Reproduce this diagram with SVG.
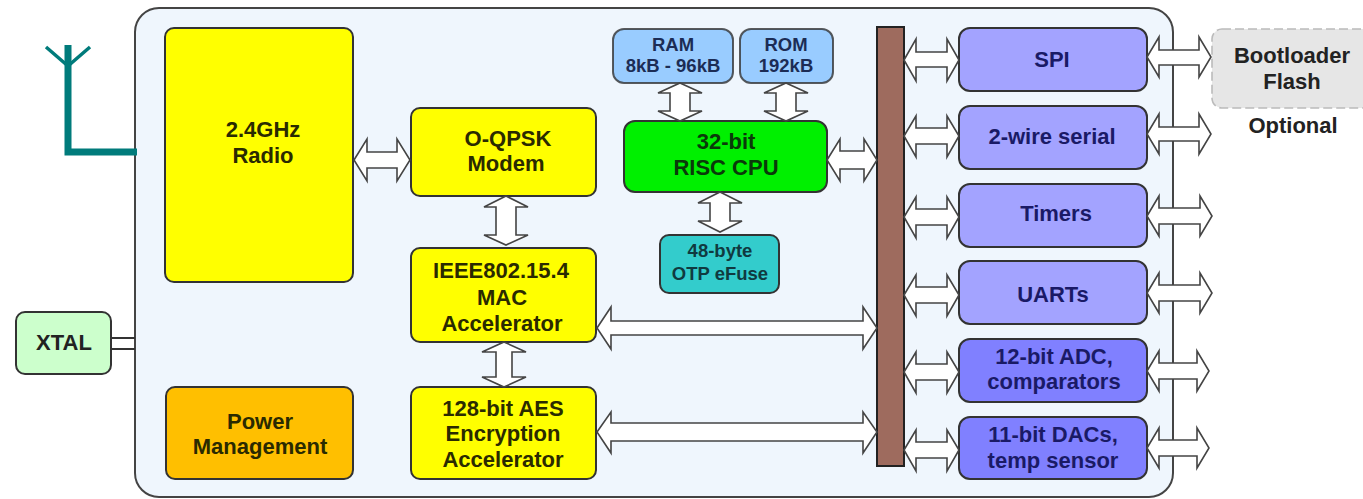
<svg xmlns="http://www.w3.org/2000/svg" width="1363" height="499" viewBox="0 0 1363 499">
<style>
text{font-family:"Liberation Sans",Arial,sans-serif;font-weight:bold;font-size:22px;text-anchor:middle;fill:#222}
.s text{font-size:18.5px}
.n{stroke:#333;stroke-width:2}
.y{fill:#ffff00}.p{fill:#a3a3ff}.d{fill:#8080ff}.b{fill:#99ccff}
.pt text{fill:#1a1a66}.yt text{fill:#2a2a00}
.a{fill:#fff;stroke:#444;stroke-width:1.6;stroke-linejoin:miter}
.ant{fill:none;stroke:#007b7b;stroke-linecap:butt}
</style>
<rect width="1363" height="499" fill="#fff"/>
<g id="chip"><rect x="135" y="8" width="1038" height="489" rx="24" fill="#eff6fd" stroke="#444" stroke-width="2"/></g>
<g id="antenna">
<path class="ant" stroke-width="7" d="M68 45V152H137"/>
<path class="ant" stroke-width="3.5" d="M46 47L68 66L90 47"/>
</g>
<g id="radio" class="yt"><rect class="n y" x="165" y="28" width="188" height="254" rx="9"/><text x="263" y="137">2.4GHz</text><text x="263" y="163">Radio</text></g>
<g id="modem" class="yt"><rect class="n y" x="411" y="108" width="185" height="88" rx="9"/><text x="508" y="146">O-QPSK</text><text x="506" y="171">Modem</text></g>
<g id="mac" class="yt"><rect class="n y" x="411" y="248" width="185" height="94" rx="9"/><text x="501" y="278">IEEE802.15.4</text><text x="502" y="305">MAC</text><text x="502" y="331">Accelerator</text></g>
<g id="aes" class="yt"><rect class="n y" x="411" y="387" width="185" height="92" rx="9"/><text x="503" y="416">128-bit AES</text><text x="503" y="441">Encryption</text><text x="503" y="467">Accelerator</text></g>
<g id="power" class="yt"><rect class="n" fill="#ffbf00" x="166" y="387" width="187" height="92" rx="9"/><text x="260" y="429">Power</text><text x="260" y="454">Management</text></g>
<g id="xtal"><rect class="n" fill="#ccffcc" x="16" y="312" width="95" height="62" rx="9"/><text x="64" y="350">XTAL</text></g>
<g id="ram" class="s"><rect class="n b" stroke-opacity=".8" x="613" y="29" width="120" height="54" rx="11"/><text x="673" y="51" style="fill:#1c2c55">RAM</text><text x="673" y="72" style="fill:#1c2c55">8kB - 96kB</text></g>
<g id="rom" class="s"><rect class="n b" stroke-opacity=".8" x="740" y="29" width="93" height="54" rx="11"/><text x="786" y="51" style="fill:#1c2c55">ROM</text><text x="786" y="72" style="fill:#1c2c55">192kB</text></g>
<g id="cpu"><rect class="n" fill="#00f000" x="624" y="121" width="203" height="71" rx="11"/><text x="726" y="149" style="fill:#0a3a0a">32-bit</text><text x="726" y="175" style="fill:#0a3a0a">RISC CPU</text></g>
<g id="otp" class="s"><rect class="n" fill="#33cccc" x="660" y="235" width="119" height="58" rx="9"/><text x="720" y="257" style="fill:#103a40">48-byte</text><text x="720" y="280" style="fill:#103a40">OTP eFuse</text></g>
<g id="bus"><rect x="877" y="27" width="27" height="439" fill="#9e6b5e" stroke="#222" stroke-width="2"/></g>
<g id="spi" class="pt"><rect class="n p" x="959" y="28" width="188" height="63" rx="11"/><text x="1052" y="67">SPI</text></g>
<g id="twowire" class="pt"><rect class="n p" x="959" y="106" width="188" height="63" rx="11"/><text x="1052" y="144">2-wire serial</text></g>
<g id="timers" class="pt"><rect class="n p" x="959" y="184" width="188" height="63" rx="11"/><text x="1056" y="221">Timers</text></g>
<g id="uarts" class="pt"><rect class="n p" x="959" y="261" width="188" height="63" rx="11"/><text x="1053" y="302">UARTs</text></g>
<g id="adc" class="pt"><rect class="n d" x="959" y="339" width="188" height="63" rx="11"/><text x="1054" y="364">12-bit ADC,</text><text x="1054" y="389">comparators</text></g>
<g id="dac" class="pt"><rect class="n d" x="959" y="417" width="188" height="62" rx="11"/><text x="1053" y="442">11-bit DACs,</text><text x="1053" y="468">temp sensor</text></g>
<g id="flash"><rect x="1212" y="29" width="160" height="79" rx="10" fill="#e6e6e6" stroke="#bbb" stroke-width="1.6" stroke-dasharray="9 4"/><text x="1292" y="63">Bootloader</text><text x="1292" y="89">Flash</text><text x="1293" y="133">Optional</text></g>
<g id="connectors">
<path d="M111 338H135M111 349H135" fill="none" stroke="#333" stroke-width="2"/>
<path class="a" d="M354 160L367 139V152H397V139L410 160L397 181V168H367V181Z"/>
<path class="a" d="M827 160L840 139V151H864V139L877 160L864 181V169H840V181Z"/>
<path class="a" d="M597 328L611 307V321H863V307L877 328L863 349V335H611V349Z"/>
<path class="a" d="M597 432L611 412V423H863V412L877 432L863 453V441H611V453Z"/>
<path class="a" d="M506 196L528 207H516V235H528L506 245L484 235H496V207H484Z"/>
<path class="a" d="M504 342L526 352H512V377H526L504 387L482 377H496V352H482Z"/>
<path class="a" d="M680 83L702 93H690V111H702L680 121L658 111H670V93H658Z"/>
<path class="a" d="M786 83L808 93H796V111H808L786 121L764 111H776V93H764Z"/>
<path class="a" d="M720 192L742 203H730V221H742L720 232L698 221H710V203H698Z"/>
<path class="a" d="M904 60L916 39V52H947V39L959 60L947 81V67H916V81Z"/>
<path class="a" d="M904 136L916 116V128H947V116L959 136L947 157V144H916V157Z"/>
<path class="a" d="M904 217L916 197V209H947V197L959 217L947 238V225H916V238Z"/>
<path class="a" d="M904 295L916 275V287H947V275L959 295L947 316V303H916V316Z"/>
<path class="a" d="M904 372L916 352V364H947V352L959 372L947 393V380H916V393Z"/>
<path class="a" d="M904 450L916 430V442H947V430L959 450L947 471V458H916V471Z"/>
<path class="a" d="M1147 57L1159 37V50H1199V37L1211 57L1199 77V65H1159V77Z"/>
<path class="a" d="M1147 134L1159 114V127H1199V114L1211 134L1199 154V141H1159V154Z"/>
<path class="a" d="M1147 216L1159 196V208H1200V196L1212 216L1200 236V224H1159V236Z"/>
<path class="a" d="M1147 293L1159 273V285H1200V273L1212 293L1200 313V301H1159V313Z"/>
<path class="a" d="M1147 371L1159 351V363H1197V351L1209 371L1197 391V379H1159V391Z"/>
<path class="a" d="M1147 448L1159 428V440H1197V428L1209 448L1197 468V456H1159V468Z"/>
</g>
</svg>
